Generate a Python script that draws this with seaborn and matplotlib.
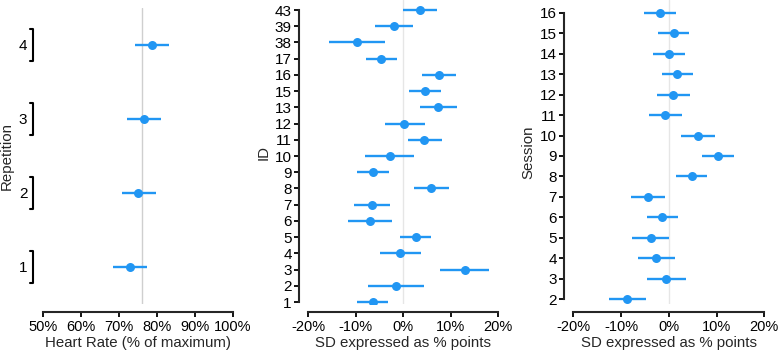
import pandas as pd
import matplotlib
matplotlib.use('Agg')
import matplotlib.pyplot as plt
import seaborn as sns

sns.set_style('ticks')
plt.rcParams['font.family'] = ['Liberation Sans', 'DejaVu Sans']

BLUE = '#2196F3'

# repetition panel (heart rate, % of maximum)
rep_labels = ['1', '2', '3', '4']
rep_est = [72.9, 75.1, 76.6, 78.7]
rep_lo = [68.5, 70.7, 72.0, 74.2]
rep_hi = [77.3, 79.7, 81.0, 83.2]
rep_mean = 76.0

# ID panel (SD as % points)
id_labels = ['1', '2', '3', '4', '5', '6', '7', '8', '9', '10', '11', '12',
             '13', '15', '16', '17', '38', '39', '43']
id_est = [-6.4, -1.5, 12.9, -0.6, 2.6, -7.0, -6.6, 5.9, -6.4, -2.9, 4.4, 0.2,
          7.4, 4.6, 7.5, -4.7, -9.7, -2.0, 3.6]
id_lo = [-9.7, -7.4, 7.8, -4.8, -0.6, -11.6, -10.3, 2.2, -9.7, -8.0, 0.9, -3.9,
         3.6, 1.3, 4.0, -7.9, -15.6, -6.0, 0.0]
id_hi = [-3.2, 4.4, 18.0, 3.7, 5.8, -2.4, -2.8, 9.6, -3.0, 2.2, 8.1, 4.5,
         11.4, 8.0, 11.2, -1.4, -3.8, 2.0, 7.2]

# session panel (SD as % points)
sess_labels = ['2', '3', '4', '5', '6', '7', '8', '9', '10', '11', '12', '13',
               '14', '15', '16']
sess_est = [-8.7, -0.6, -2.6, -3.8, -1.4, -4.4, 4.8, 10.4, 6.1, -0.7, 0.9, 1.8,
            0.0, 1.0, -1.9]
sess_lo = [-12.6, -4.6, -6.5, -7.7, -4.6, -7.9, 1.5, 7.0, 2.6, -4.1, -2.4, -1.5,
           -3.3, -2.3, -5.2]
sess_hi = [-4.8, 3.5, 1.3, 0.1, 2.0, -0.9, 8.1, 13.7, 9.7, 2.8, 4.4, 5.1,
           3.3, 4.3, 1.6]

pct_ticks_hr = [50, 60, 70, 80, 90, 100]
pct_ticks_sd = [-20, -10, 0, 10, 20]

W, H = 778, 351
fig = plt.figure(figsize=(W / 100, H / 100), dpi=100)


def px_rect(x0, x1, top, bottom):
    return [x0 / W, (H - bottom) / H, (x1 - x0) / W, (bottom - top) / H]


ax1 = fig.add_axes(px_rect(43.3, 232.7, 8, 304))
ax2 = fig.add_axes(px_rect(308.3, 498.3, 0, 304))
ax3 = fig.add_axes(px_rect(573.3, 764.3, 0, 304))


def forest(ax, labels, est, lo, hi, ref, ref_color):
    df = pd.DataFrame({'label': labels, 'est': est, 'lo': lo, 'hi': hi})
    df['pos'] = range(len(df))
    ax.axvline(ref, color=ref_color, lw=1, zorder=0)
    ax.hlines(df['pos'], df['lo'], df['hi'], color=BLUE, lw=1.7, zorder=2)
    sns.scatterplot(data=df, x='est', y='pos', ax=ax, color=BLUE, s=42,
                    linewidth=0, zorder=3, legend=False)
    ax.set_yticks(df['pos'])
    ax.set_yticklabels(df['label'])
    return df


def style_axes(ax, xticks, fmt):
    for side in ['top', 'right']:
        ax.spines[side].set_visible(False)
    ax.spines['bottom'].set_position(('outward', 5.8))
    ax.spines['bottom'].set_linewidth(1.5)
    ax.spines['left'].set_linewidth(1.5)
    ax.set_xticks(xticks)
    ax.set_xticklabels([fmt.format(t) for t in xticks])
    ax.set_xlim(xticks[0], xticks[-1])
    ax.tick_params(axis='both', labelsize=10.5, color='black', labelcolor='black',
                   width=1.3, length=3.5, pad=2)


# left panel
d1 = forest(ax1, rep_labels, rep_est, rep_lo, rep_hi, rep_mean, '#cfcfcf')
style_axes(ax1, pct_ticks_hr, '{}%')
ax1.set_ylim(-0.5, 3.5)
ax1.spines['left'].set_visible(False)
ax1.tick_params(axis='y', length=0, pad=11.5, labelsize=11)
bx = -10 / 189.4
bt = -3 / 189.4
ytr = ax1.get_yaxis_transform()
for p in d1['pos']:
    ax1.plot([bx + bt, bx, bx, bx + bt], [p + 0.21, p + 0.21, p - 0.21, p - 0.21],
             color='black', lw=1.5, transform=ytr, clip_on=False)
ax1.set_ylabel('Repetition', fontsize=10.8, labelpad=4)
ax1.set_xlabel('Heart Rate (% of maximum)', fontsize=10.8, labelpad=1.5)

# middle panel
d2 = forest(ax2, id_labels, id_est, id_lo, id_hi, 0, '#e6e6e6')
style_axes(ax2, pct_ticks_sd, '{}%')
ax2.set_ylim(-0.123, 18.617)
ax2.spines['left'].set_position(('outward', 6.5))
ax2.spines['left'].set_bounds(0, len(id_labels) - 1)
ax2.tick_params(axis='y', labelsize=11)
ax2.set_ylabel('ID', fontsize=10.8, labelpad=3)
ax2.set_xlabel('SD expressed as % points', fontsize=10.8, labelpad=1.5)

# right panel
d3 = forest(ax3, sess_labels, sess_est, sess_lo, sess_hi, 0, '#e6e6e6')
style_axes(ax3, pct_ticks_sd, '{}%')
ax3.set_ylim(-0.23, 14.62)
ax3.spines['left'].set_position(('outward', 6.5))
ax3.spines['left'].set_bounds(0, len(sess_labels) - 1)
ax3.tick_params(axis='y', labelsize=11)
ax3.set_ylabel('Session', fontsize=10.8, labelpad=3)
ax3.set_xlabel('SD expressed as % points', fontsize=10.8, labelpad=1.5)

fig.savefig('out.png', dpi=100)
